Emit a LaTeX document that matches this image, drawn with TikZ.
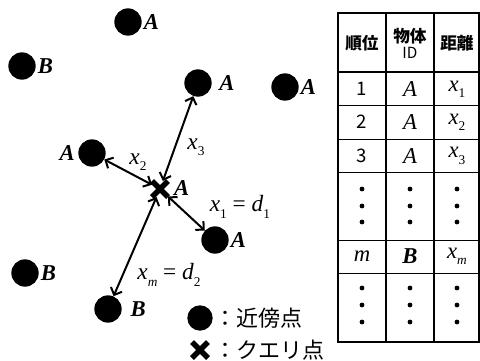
\documentclass[tikz,border=0pt]{standalone}
\usepackage{fontspec}
\setmainfont{Liberation Serif}
\newfontfamily\jpfont{Noto Sans CJK JP}
\usetikzlibrary{arrows.meta,shapes.misc}

\newcommand\xsub[2]{\textit{#1}\raisebox{-0.28em}{\fontsize{10}{10}\selectfont #2}}

\tikzset{
    pt/.style={circle,fill,inner sep=0pt,minimum size=20.5pt},
    qry/.style={cross out,draw,line width=4pt,inner sep=0pt,minimum size=8pt},
    lbl/.style={font=\fontsize{17}{18}\selectfont\bfseries\itshape},
    dlbl/.style={font=\fontsize{17.5}{19}\selectfont},
    dist/.style={{Straight Barb[length=4.5pt,width=9pt]}-{Straight Barb[length=4.5pt,width=9pt]},line width=1.5pt},
    jp/.style={font=\jpfont\fontsize{16.5}{18}\selectfont},
    head/.style={font=\jpfont\bfseries\fontsize{12.5}{13}\selectfont},
    cell/.style={font=\fontsize{17}{18}\selectfont},
    num/.style={font=\jpfont\fontsize{14}{15}\selectfont}
}

\begin{document}
\begin{tikzpicture}[x=0.75pt,y=-0.75pt]
    \useasboundingbox (0,0) rectangle (480,361);

        \node[pt] (a0) at (128,22) {};
        \node[lbl,right] at ([xshift=-2pt]a0.east) {A};
        \node[pt] (b0) at (22,66) {};
        \node[lbl,right] at ([xshift=-2pt]b0.east) {B};
        \node[pt] (a3) at (198,83) {};
        \node[lbl,right] at ([xshift=2pt]a3.east) {A};
        \node[pt] (a4) at (285,87) {};
        \node[lbl,right] at ([xshift=-2pt]a4.east) {A};
        \node[pt] (a2) at (92,153) {};
        \node[lbl,left] at ([xshift=1pt]a2.west) {A};
        \node[qry] (q) at (160,189) {};
        \node[lbl,right] at ([xshift=1pt,yshift=1pt]q.east) {A};
        \node[pt] (a1) at (215,240) {};
        \node[lbl,right] at ([xshift=-2pt]a1.east) {A};
        \node[pt] (b1) at (25,273) {};
        \node[lbl,right] at ([xshift=-2pt]b1.east) {B};
        \node[pt] (bm) at (108,309) {};
        \node[lbl,right] at ([xshift=3pt]bm.east) {B};

        \draw[dist] (q) -- (a3);
        \draw[dist] (q) -- (a2);
        \draw[dist] (q) -- (a1);
        \draw[dist] (q) -- (bm);
        \node[dlbl] at (196,147) {\xsub{x}{3}};
        \node[dlbl] at (138,162) {\xsub{x}{2}};
        \node[dlbl] at (240,207) {\xsub{x}{1} = \xsub{d}{1}};
        \node[dlbl] at (169,275) {\xsub{x}{\textit{m}} = \xsub{d}{2}};

        \node[pt,minimum size=19pt] (lp) at (200,318) {};
        \node[jp,right] at ([xshift=-2pt]lp.east) {：近傍点};
        \node[qry] (lq) at (200,350) {};
        \node[jp,right] at ([xshift=1pt]lq.east) {：クエリ点};

        \draw[line width=1.5pt] (338,13) rectangle (479,342);
        \draw[line width=1.4pt] (386,13) -- (386,342);
        \draw[line width=1.4pt] (434,13) -- (434,342);
        \draw[line width=1.2pt] (338,72) -- (479,72);
        \draw[line width=0.6pt] (338,105.5) -- (479,105.5);
        \draw[line width=0.6pt] (338,139) -- (479,139);
        \draw[line width=0.6pt] (338,172.5) -- (479,172.5);
        \draw[line width=0.6pt] (338,240) -- (479,240);
        \draw[line width=0.6pt] (338,273) -- (479,273);

        \node[head] (h1) at (362,43) {順位};
        \node[head,align=center] (h2) at (410,43) {物体\\[-1pt]{\mdseries\fontsize{11.5}{12}\selectfont ID}};
        \node[head] (h3) at (457,43) {距離};

        \node[num] at (362,89) {1};
        \node[cell] at (410,89) {\textit{A}};
        \node[cell] at (457,89) {\xsub{x}{1}};
        \node[num] at (362,122) {2};
        \node[cell] at (410,122) {\textit{A}};
        \node[cell] at (457,122) {\xsub{x}{2}};
        \node[num] at (362,156) {3};
        \node[cell] at (410,156) {\textit{A}};
        \node[cell] at (457,156) {\xsub{x}{3}};
        \node[cell] at (362,256) {\textit{m}};
        \node[cell] at (410,256) {\textbf{\textit{B}}};
        \node[cell] at (457,256) {\xsub{x}{\textit{m}}};

        \foreach \cx in {362,410,457}
            \foreach \cy in {189,206,222,288,305,322}
                \fill (\cx,\cy) circle[radius=1.8pt];
\end{tikzpicture}
\end{document}
